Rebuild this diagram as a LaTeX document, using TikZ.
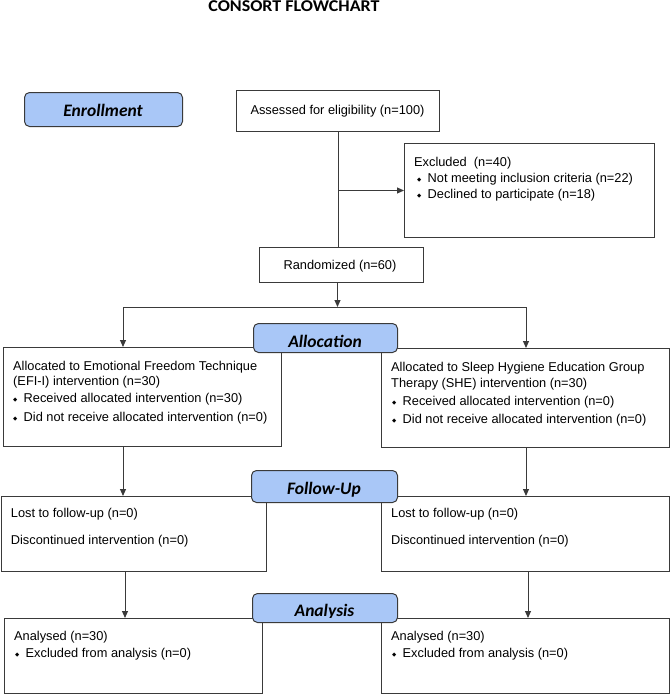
\documentclass[tikz,border=0pt]{standalone}
\usepackage{fontspec}
\setmainfont{Liberation Sans}
\newfontfamily\calib{Carlito}
\newfontfamily\djv{DejaVu Sans}
\usetikzlibrary{arrows.meta,calc}
\definecolor{lblue}{HTML}{A9C7F7}
\definecolor{edgec}{HTML}{3A3A3A}
\newcommand{\bul}{\makebox[10.5pt][l]{\raisebox{0.6pt}{\djv\fontsize{5.5}{6}\selectfont ◆}}}
\begin{document}
\begin{tikzpicture}[x=1pt,y=-1pt,
  box/.style={draw=edgec, line width=1pt, fill=white, inner sep=0pt, anchor=north west},
  lbl/.style={draw=edgec, line width=1pt, fill=lblue, rounded corners=5pt, inner sep=0pt, anchor=north west},
  lbltxt/.style={font=\calib\bfseries\itshape\fontsize{17.5}{20}\selectfont, inner sep=0pt, anchor=base},
  txt/.style={font=\fontsize{12.8}{15}\selectfont, inner sep=0pt, anchor=base west},
  ttl/.style={font=\calib\bfseries\fontsize{16.5}{19}\selectfont, inner sep=0pt, anchor=base},
  arr/.style={draw=edgec, line width=1pt, -{Triangle[length=7pt,width=6pt]}},
  ln/.style={draw=edgec, line width=1pt}]
\useasboundingbox (0,0) rectangle (670,694);

% title
\node[ttl] (title) at (294,11.7) {\scalebox{1.09}[1]{CONSORT FLOWCHART}};

% boxes
\node[box, minimum width=203, minimum height=41] (assess) at (236,90) {};
\node[box, minimum width=250, minimum height=94] (excl) at (404,143) {};
\node[box, minimum width=164, minimum height=35] (rand) at (259,247) {};
\node[box, minimum width=278, minimum height=99] (la) at (3,347) {};
\node[box, minimum width=288, minimum height=99] (ra) at (381,348) {};
\node[box, minimum width=265.4, minimum height=75] (lf) at (0.6,496) {};
\node[box, minimum width=288.4, minimum height=75] (rf) at (381,496) {};
\node[box, minimum width=257.5, minimum height=75] (lan) at (4,618) {};
\node[box, minimum width=288.4, minimum height=75] (ran) at (381,618) {};

% connectors
\coordinate (j) at (337.5,307);
\coordinate (jl) at (123,307);
\coordinate (jr) at (526,307);
\coordinate (xl) at (125,0);
\coordinate (xr) at (528,0);
\draw[ln] (assess.south) -- (rand.north -| assess.south);
\draw[arr] (excl.west -| assess.south) -- (excl.west);
\draw[arr] (rand.south -| j) -- (j);
\draw[ln] (jl) -- (jr);
\draw[arr] (jl) -- (jl |- la.north);
\draw[arr] (jr) -- (jr |- ra.north);
\draw[arr] (la.south -| jl) -- (lf.north -| jl);
\draw[arr] (ra.south -| jr) -- (rf.north -| jr);
\draw[arr] (lf.south -| xl) -- (lan.north -| xl);
\draw[arr] (rf.south -| xr) -- (ran.north -| xr);

% texts
\node[txt, anchor=base] (t0) at (337.5,114.5) {Assessed for eligibility (n=100)};
\node[txt] (t1) at (414,166.5) {Excluded\ \ (n=40)};
\node[txt] (t2) at (417,182.5) {\bul Not meeting inclusion criteria (n=22)};
\node[txt] (t3) at (417,198.5) {\bul Declined to participate (n=18)};
\node[txt, anchor=base] (t4) at (340,269.5) {Randomized (n=60)};

\node[txt] (t5) at (13,370) {Allocated to Emotional Freedom Technique};
\node[txt] (t6) at (13,385.5) {(EFI-I) intervention (n=30)};
\node[txt] (t7) at (13,402.5) {\bul Received allocated intervention (n=30)};
\node[txt] (t8) at (13,421.5) {\bul Did not receive allocated intervention (n=0)};

\node[txt] (t9) at (391,371.5) {Allocated to Sleep Hygiene Education Group};
\node[txt] (t10) at (391,387.5) {Therapy (SHE) intervention (n=30)};
\node[txt] (t11) at (392,405.5) {\bul Received allocated intervention (n=0)};
\node[txt] (t12) at (392,423.5) {\bul Did not receive allocated intervention (n=0)};

\node[txt] (t13) at (10.7,517.5) {Lost to follow-up (n=0)};
\node[txt] (t14) at (10.7,544.5) {Discontinued intervention (n=0)};
\node[txt] (t15) at (391,517.5) {Lost to follow-up (n=0)};
\node[txt] (t16) at (391,544.5) {Discontinued intervention (n=0)};

\node[txt] (t17) at (14,640.5) {Analysed (n=30)};
\node[txt] (t18) at (15,657.5) {\bul Excluded from analysis (n=0)};
\node[txt] (t19) at (391,640.5) {Analysed (n=30)};
\node[txt] (t20) at (392,657.5) {\bul Excluded from analysis (n=0)};

% stage labels
\node[lbl, minimum width=158, minimum height=34] (enr) at (24,92) {};
\node[lbltxt] (enrt) at (103,116.7) {Enrollment};
\node[lbl, minimum width=144, minimum height=29] (alloc) at (253,323) {};
\node[lbltxt] (alloct) at (325,347) {Allocation};
\node[lbl, minimum width=146, minimum height=32] (fup) at (251,470) {};
\node[lbltxt] (fupt) at (324,494) {Follow-Up};
\node[lbl, minimum width=145, minimum height=29] (ana) at (252,593) {};
\begin{scope}
\clip (252,590) rectangle (397,617.5);
\node[lbltxt] (anat) at (324.5,616) {Analysis};
\end{scope}
\end{tikzpicture}
\end{document}
